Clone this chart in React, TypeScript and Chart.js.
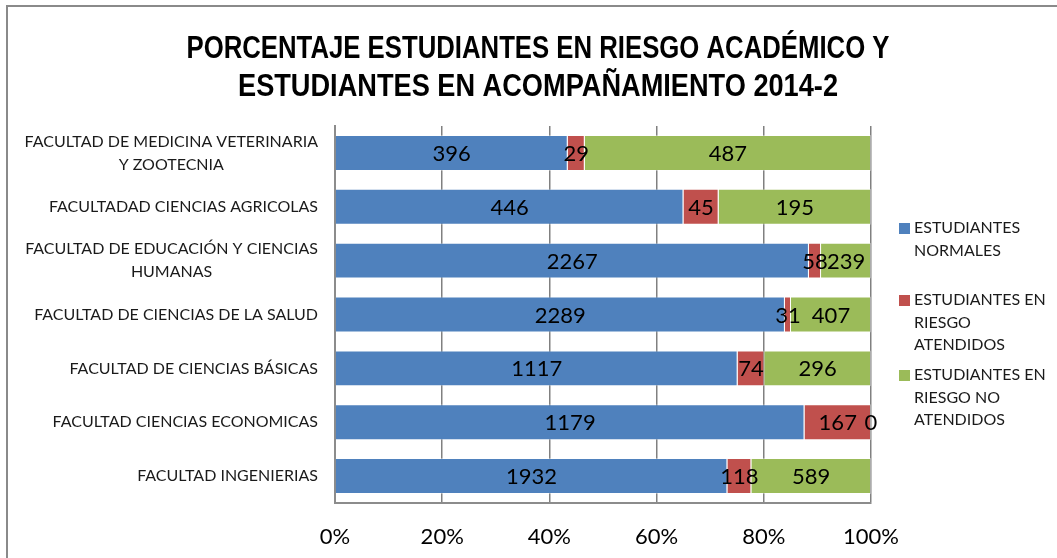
import React, { useEffect, useRef } from "react";
import { Chart, registerables } from "chart.js";

Chart.register(...registerables);

const categories: string[][] = [
  ["FACULTAD DE MEDICINA VETERINARIA", "Y ZOOTECNIA"],
  ["FACULTADAD CIENCIAS AGRICOLAS"],
  ["FACULTAD DE EDUCACIÓN Y CIENCIAS", "HUMANAS"],
  ["FACULTAD DE CIENCIAS DE LA SALUD"],
  ["FACULTAD DE CIENCIAS BÁSICAS"],
  ["FACULTAD CIENCIAS ECONOMICAS"],
  ["FACULTAD INGENIERIAS"],
];
const normales = [396, 446, 2267, 2289, 1117, 1179, 1932];
const atendidos = [29, 45, 58, 31, 74, 167, 118];
const noAtendidos = [487, 195, 239, 407, 296, 0, 589];
const seriesNames: string[][] = [
  ["ESTUDIANTES", "NORMALES"],
  ["ESTUDIANTES EN", "RIESGO", "ATENDIDOS"],
  ["ESTUDIANTES EN", "RIESGO NO", "ATENDIDOS"],
];
const seriesColors = ["#4F81BD", "#C0504D", "#9BBB59"];
const titleLines = [
  "PORCENTAJE ESTUDIANTES EN RIESGO ACADÉMICO Y",
  "ESTUDIANTES EN ACOMPAÑAMIENTO 2014-2",
];
const xTickStep = 20;

const BODY_FONT = "Lato, 'Open Sans', sans-serif";
const TITLE_FONT = "'Liberation Sans', Arial, sans-serif";

const raw = [normales, atendidos, noAtendidos];
const totals = categories.map((_, i) => raw.reduce((s, arr) => s + arr[i], 0));

const decorPlugin = {
  id: "decor",
  beforeDraw(chart: any) {
    const ctx = chart.ctx;
    ctx.save();
    ctx.fillStyle = "#ffffff";
    ctx.fillRect(0, 0, chart.width, chart.height);
    ctx.strokeStyle = "#8a8a8a";
    ctx.lineWidth = 2;
    ctx.strokeRect(7, 6, chart.width + 50, chart.height + 50);
    ctx.restore();
  },
  afterDraw(chart: any) {
    const ctx = chart.ctx;
    ctx.save();
    // Title (horizontally condensed like the original)
    ctx.fillStyle = "#000";
    ctx.textAlign = "center";
    ctx.textBaseline = "middle";
    ctx.font = `bold 31px ${TITLE_FONT}`;
    const targets = [703, 600];
    const ys = [49, 87];
    titleLines.forEach((line, k) => {
      const sx = targets[k] / ctx.measureText(line).width;
      ctx.save();
      ctx.translate(538, 0);
      ctx.scale(sx, 1);
      ctx.fillText(line, 0, ys[k]);
      ctx.restore();
    });

    // Category labels
    const y = chart.scales.y;
    ctx.font = `16px ${BODY_FONT}`;
    ctx.fillStyle = "#1a1a1a";
    categories.forEach((lines, i) => {
      const cy = y.getPixelForValue(i);
      const maxW = Math.max(...lines.map((l) => ctx.measureText(l).width));
      const cx = 318 - maxW / 2;
      lines.forEach((l, j) => {
        ctx.fillText(l, cx, cy + (j - (lines.length - 1) / 2) * 23);
      });
    });

    // Legend
    const starts = [228, 300, 375];
    seriesNames.forEach((lines, k) => {
      ctx.fillStyle = seriesColors[k];
      ctx.fillRect(899, starts[k] - 5, 11, 11);
      ctx.fillStyle = "#1a1a1a";
      ctx.textAlign = "left";
      lines.forEach((l, j) => {
        ctx.fillText(l, 914, starts[k] + j * 22.5);
      });
    });
    ctx.restore();
  },
  afterDatasetsDraw(chart: any) {
    const ctx = chart.ctx;
    ctx.save();
    ctx.font = `22px ${BODY_FONT}`;
    ctx.fillStyle = "#000";
    ctx.textAlign = "center";
    ctx.textBaseline = "middle";
    chart.data.datasets.forEach((ds: any, d: number) => {
      const meta = chart.getDatasetMeta(d);
      meta.data.forEach((bar: any, i: number) => {
        const cx = (bar.x + bar.base) / 2;
        ctx.fillText(String(raw[d][i]), cx, bar.y + 1);
      });
    });
    ctx.restore();
  },
};

export default function App() {
  const ref = useRef<HTMLCanvasElement | null>(null);
  useEffect(() => {
    document.body.style.margin = "0";
    if (!ref.current) return;
    const chart = new Chart(ref.current, {
      type: "bar",
      data: {
        labels: categories.map((c) => c.join(" ")),
        datasets: raw.map((arr, d) => ({
          label: seriesNames[d].join(" "),
          data: arr.map((v, i) => (v / totals[i]) * 100),
          backgroundColor: seriesColors[d],
          borderColor: "rgba(255,255,255,0.35)",
          borderWidth: 1,
          barPercentage: 0.667,
          categoryPercentage: 1,
        })),
      },
      options: {
        indexAxis: "y",
        responsive: false,
        animation: false,
        layout: { padding: { top: 126, right: 186, left: 0, bottom: 0 } },
        plugins: {
          legend: { display: false },
          title: { display: false },
          tooltip: { enabled: false },
        },
        scales: {
          x: {
            stacked: true,
            min: 0,
            max: 100,
            ticks: {
              stepSize: xTickStep,
              callback: (v: any) => `${v}%`,
              font: { size: 22, family: BODY_FONT },
              color: "#000",
              padding: 21,
              maxRotation: 0,
            },
            grid: { color: "#808080", lineWidth: 1.5, drawTicks: false },
            border: { display: true, color: "#8c8c8c", width: 2 },
            afterFit: (s: any) => {
              s.height = 55;
            },
          },
          y: {
            stacked: true,
            ticks: { display: false },
            grid: { display: false, drawTicks: false },
            border: { display: true, color: "#8c8c8c", width: 2 },
            afterFit: (s: any) => {
              s.width = 335;
            },
          },
        },
      },
      plugins: [decorPlugin],
    } as any);
    return () => chart.destroy();
  }, []);
  return <canvas ref={ref} width={1057} height={558} style={{ display: "block" }} />;
}
